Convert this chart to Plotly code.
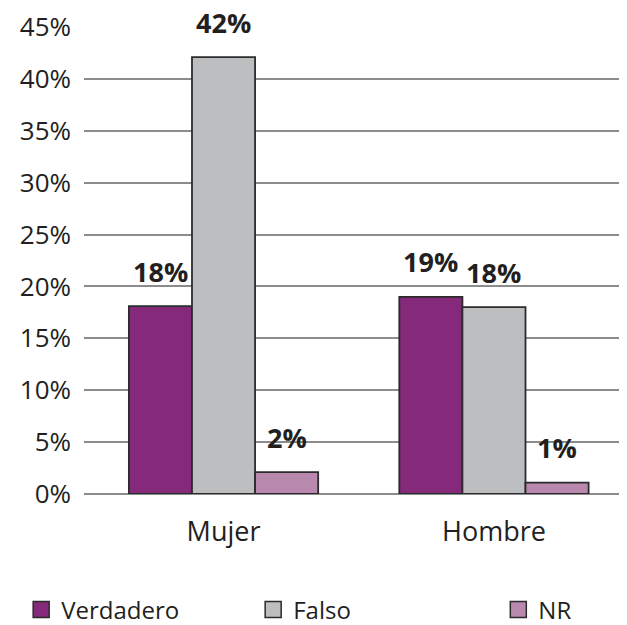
"""Verdadero / Falso / NR por sexo - grouped bar chart"""
import plotly.graph_objects as go

categorias = ["Mujer", "Hombre"]
verdadero = [18.1, 19.0]
falso = [42.1, 18.0]
nr = [2.1, 1.1]
etiquetas_verdadero = ["18%", "19%"]
etiquetas_falso = ["42%", "18%"]
etiquetas_nr = ["2%", "1%"]
ticks_y = [0, 5, 10, 15, 20, 25, 30, 35, 40, 45]
ticks_y_texto = ["0%", "5%", "10%", "15%", "20%", "25%", "30%", "35%", "40%", "45%"]

FONT = "Open Sans"
TEXT = "#231F20"

# name, values, labels, colour, label x-shift, legend id, legend x (container)
series = [
    ("Verdadero", verdadero, etiquetas_verdadero, "#85297A", -63, "legend", 0.021),
    ("Falso", falso, etiquetas_falso, "#BCBEC0", 0, "legend2", 0.391),
    ("NR", nr, etiquetas_nr, "#B888AE", 63, "legend3", 0.782),
]

fig = go.Figure()
annotations = []
legends = {}
for name, values, labels, color, shift, leg, leg_x in series:
    fig.add_trace(go.Bar(x=categorias,
                         y=values,
                         name=name,
                         showlegend=False,
                         marker=dict(color=color,
                                     line=dict(color="#2B2B2B", width=1.8))))
    # legend proxy with a bigger square symbol
    fig.add_trace(go.Scatter(x=[None],
                             y=[None],
                             mode="markers",
                             name=name,
                             legend=leg,
                             marker=dict(symbol="square", size=17, color=color,
                                         line=dict(color="#2B2B2B", width=1.5))))
    legends[leg] = dict(orientation="h",
                        xref="container", yref="container",
                        x=leg_x, xanchor="left",
                        y=0.037, yanchor="middle",
                        itemsizing="trace",
                        bgcolor="rgba(0,0,0,0)",
                        font=dict(family=FONT, size=24, color=TEXT))
    for cat, val, lab in zip(categorias, values, labels):
        annotations.append(dict(x=cat, y=val, text="<b>" + lab + "</b>",
                                showarrow=False, xshift=shift, yshift=35,
                                yanchor="middle",
                                font=dict(family=FONT, size=27, color=TEXT)))

fig.update_layout(barmode="group",
                  bargap=0.3,
                  bargroupgap=0,
                  width=627,
                  height=625,
                  margin=dict(l=76, r=8, t=19, b=139),
                  plot_bgcolor="white",
                  paper_bgcolor="white",
                  font=dict(family=FONT, size=24, color=TEXT),
                  annotations=annotations,
                  **legends)

fig.update_xaxes(range=[-0.516, 1.492],
                 automargin=False,
                 showgrid=False,
                 showline=False,
                 ticks="",
                 ticklabelstandoff=19,
                 tickfont=dict(family=FONT, size=27, color=TEXT))
fig.update_yaxes(range=[0, 45],
                 automargin=False,
                 tickmode="array",
                 tickvals=ticks_y,
                 ticktext=ticks_y_texto,
                 showgrid=True,
                 gridcolor="#8C8C8C",
                 gridwidth=1.5,
                 zeroline=True,
                 zerolinecolor="#8C8C8C",
                 zerolinewidth=1.5,
                 showline=False,
                 ticks="",
                 ticklabelstandoff=12,
                 tickfont=dict(family=FONT, size=26, color=TEXT))

fig.write_html("out.html")
